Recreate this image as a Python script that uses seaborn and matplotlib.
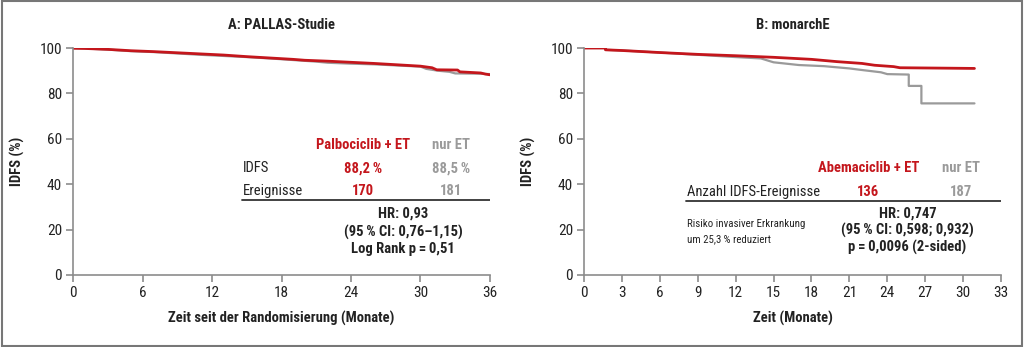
import matplotlib
matplotlib.use("Agg")
import matplotlib.pyplot as plt
import seaborn as sns
import pandas as pd
from matplotlib import font_manager

sns.set_style("white")
names_avail = {f.name for f in font_manager.fontManager.ttflist}
fam = [f for f in ["Roboto Condensed", "Liberation Sans Narrow", "Roboto"] if f in names_avail]
plt.rcParams['font.family'] = fam + ['DejaVu Sans']

RED = "#c4161c"
GRAY = "#9a9a9a"
AX = "#8c8c8c"

# ---- Data: panel A (PALLAS) ----
a_red_t = [0, 1, 3, 5, 7, 9, 11, 13, 15, 17, 19, 20, 22, 24, 26, 28, 30, 31, 31.4, 33.2, 33.4, 35.2, 35.6, 36]
a_red_v = [99.9, 99.8, 99.4, 98.8, 98.4, 97.9, 97.4, 96.9, 96.2, 95.6, 95.0, 94.6, 94.2, 93.7, 93.2, 92.6, 92.0, 91.3, 90.4, 90.3, 89.5, 89.0, 88.5, 88.2]
a_gray_t = [0, 1, 3, 5, 7, 9, 11, 13, 15, 17, 19, 21, 22, 24, 26, 28, 30, 30.5, 31.5, 32.5, 33, 35, 36]
a_gray_v = [99.9, 99.8, 99.3, 98.6, 98.2, 97.6, 97.0, 96.5, 96.0, 95.4, 94.7, 94.0, 93.5, 93.1, 92.8, 92.3, 91.8, 90.8, 90.0, 89.5, 88.8, 88.7, 88.5]

# ---- Data: panel B (monarchE) ----
b_red_t = [0, 1.7, 1.7, 3, 6, 9, 12, 15, 18, 20, 22, 23, 24.5, 25, 27, 29, 30.9]
b_red_v = [100, 100, 99.2, 98.9, 98.0, 97.2, 96.6, 95.9, 95.0, 94.0, 93.2, 92.4, 91.8, 91.3, 91.2, 91.1, 91.0]
b_gray_t = [0, 1.7, 1.7, 3, 6, 9, 12, 14, 15, 17, 19, 21, 22, 23.5, 24, 25.7, 25.7, 26.7, 26.7, 30.9]
b_gray_v = [100, 100, 99.2, 98.9, 98.0, 97.0, 96.0, 95.4, 93.7, 92.5, 92.0, 91.0, 90.3, 89.3, 88.5, 88.3, 83.3, 83.3, 75.6, 75.6]

a_xticks = [0, 6, 12, 18, 24, 30, 36]
b_xticks = [0, 3, 6, 9, 12, 15, 18, 21, 24, 27, 30, 33]
yticks = [0, 20, 40, 60, 80, 100]

def frame(t1, v1, n1, t2, v2, n2):
    return pd.concat([pd.DataFrame({"t": t1, "v": v1, "arm": n1}),
                      pd.DataFrame({"t": t2, "v": v2, "arm": n2})], ignore_index=True)

df_a = frame(a_gray_t, a_gray_v, "nur ET", a_red_t, a_red_v, "Palbociclib + ET")
df_b = frame(b_gray_t, b_gray_v, "nur ET", b_red_t, b_red_v, "Abemaciclib + ET")

fig = plt.figure(figsize=(10.24, 3.47), dpi=100)
axA = fig.add_axes([73/1024, 1-275/347, 417/1024, 227/347])
axB = fig.add_axes([584/1024, 1-275/347, 417/1024, 227/347])

DARK = "#222222"
for ax, df, names in [(axA, df_a, ["nur ET", "Palbociclib + ET"]),
                      (axB, df_b, ["nur ET", "Abemaciclib + ET"])]:
    sns.lineplot(data=df, x="t", y="v", hue="arm", hue_order=names,
                 palette={names[0]: GRAY, names[1]: RED},
                 estimator=None, sort=False, legend=False, ax=ax, size="arm",
                 sizes={names[0]: 1.6, names[1]: 2.0})
    for s in ["top", "right"]:
        ax.spines[s].set_visible(False)
    for s in ["left", "bottom"]:
        ax.spines[s].set_color(AX)
        ax.spines[s].set_linewidth(1.2)
    ax.set_ylim(0, 100)
    ax.set_yticks(yticks)
    ax.tick_params(axis="both", colors=AX, labelcolor=DARK, labelsize=11,
                   direction="out", length=5, width=1.2, bottom=True, left=True, pad=3)
    ax.set_ylabel("IDFS (%)", fontsize=10.5, fontweight="bold", color=DARK, labelpad=10)
    ax.set_facecolor("white")

axA.set_xlim(0, 36)
axA.set_xticks(a_xticks)
axB.set_xlim(0, 33)
axB.set_xticks(b_xticks)
axA.set_xlabel("Zeit seit der Randomisierung (Monate)", fontsize=10.5, fontweight="bold", color=DARK, labelpad=8)
axB.set_xlabel("Zeit (Monate)", fontsize=10.5, fontweight="bold", color=DARK, labelpad=8)
axA.set_title("A: PALLAS-Studie", fontsize=10.5, fontweight="bold", color=DARK, pad=14)
axB.set_title("B: monarchE", fontsize=10.5, fontweight="bold", color=DARK, pad=14)

# ---- Panel A table ----
fs = 10.5
axA.text(25.0, 57.3, "Palbociclib + ET", color=RED, fontsize=fs, fontweight="bold", ha="center", va="center")
axA.text(32.6, 57.3, "nur ET", color=GRAY, fontsize=fs, fontweight="bold", ha="center", va="center")
axA.text(14.7, 47.1, "IDFS", color=DARK, fontsize=fs, ha="left", va="center")
axA.text(25.0, 47.1, "88,2\u2009%", color=RED, fontsize=fs, fontweight="bold", ha="center", va="center")
axA.text(32.6, 47.1, "88,5\u2009%", color=GRAY, fontsize=fs, fontweight="bold", ha="center", va="center")
axA.text(14.7, 37.0, "Ereignisse", color=DARK, fontsize=fs, ha="left", va="center")
axA.text(25.0, 37.0, "170", color=RED, fontsize=fs, fontweight="bold", ha="center", va="center")
axA.text(32.6, 37.0, "181", color=GRAY, fontsize=fs, fontweight="bold", ha="center", va="center")
axA.plot([14.6, 36], [33.0, 33.0], color="#333333", lw=1.3)
axA.text(28.5, 26.9, "HR: 0,93", color=DARK, fontsize=fs, fontweight="bold", ha="center", va="center")
axA.text(28.5, 18.9, "(95\u2009% CI: 0,76\u20131,15)", color=DARK, fontsize=fs, fontweight="bold", ha="center", va="center")
axA.text(28.5, 11.5, "Log Rank p\u2009=\u20090,51", color=DARK, fontsize=fs, fontweight="bold", ha="center", va="center")

# ---- Panel B table ----
axB.text(22.5, 47.1, "Abemaciclib + ET", color=RED, fontsize=fs, fontweight="bold", ha="center", va="center")
axB.text(29.8, 47.1, "nur ET", color=GRAY, fontsize=fs, fontweight="bold", ha="center", va="center")
axB.text(8.15, 36.6, "Anzahl IDFS-Ereignisse", color=DARK, fontsize=fs, ha="left", va="center")
axB.text(22.5, 36.6, "136", color=RED, fontsize=fs, fontweight="bold", ha="center", va="center")
axB.text(29.8, 36.6, "187", color=GRAY, fontsize=fs, fontweight="bold", ha="center", va="center")
axB.plot([8.05, 33], [32.6, 32.6], color="#333333", lw=1.3)
axB.text(8.15, 22.5, "Risiko invasiver Erkrankung", color=DARK, fontsize=7.8, ha="left", va="center")
axB.text(8.15, 15.9, "um 25,3\u2009% reduziert", color=DARK, fontsize=7.8, ha="left", va="center")
axB.text(25.6, 26.9, "HR: 0,747", color=DARK, fontsize=fs, fontweight="bold", ha="center", va="center")
axB.text(25.6, 19.4, "(95\u2009% CI: 0,598; 0,932)", color=DARK, fontsize=fs, fontweight="bold", ha="center", va="center")
axB.text(25.6, 12.3, "p\u2009=\u20090,0096 (2-sided)", color=DARK, fontsize=fs, fontweight="bold", ha="center", va="center")

fig.add_artist(plt.Rectangle((0.0015, 0.003), 0.997, 0.994, transform=fig.transFigure,
                             fill=False, edgecolor="#777777", lw=1.5))

fig.savefig("out.png", dpi=100, facecolor="white")
